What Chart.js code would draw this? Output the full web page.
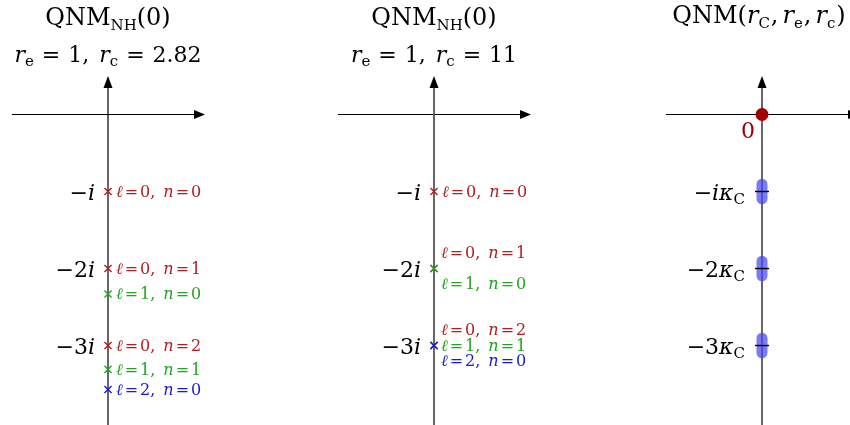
<!DOCTYPE html>
<html>
<head>
<meta charset="utf-8">
<script src="https://cdn.jsdelivr.net/npm/chart.js@4/dist/chart.umd.min.js"></script>
<style>
  body { margin: 0; background: #fff; }
  #wrap { position: relative; width: 850px; height: 425px; }
  #wrap canvas { position: absolute; left: 0; top: 0; }
</style>
</head>
<body>
<div id="wrap">
  <canvas id="qnm1" width="850" height="425"></canvas>
  <canvas id="qnm2" width="850" height="425"></canvas>
  <canvas id="qnm3" width="850" height="425"></canvas>
</div>
<script>
// data: imaginary parts of the modes (units of i)
var modeEll = [0, 0, 1, 0, 1, 2];
var modeN = [0, 1, 0, 2, 1, 0];
var imPanel1 = [-1, -2, -2.33, -3, -3.31, -3.57];   // r_c = 2.82
var imPanel2 = [-1, -2, -2, -3, -3, -3];             // r_c = 11
var imagTicks = [-1, -2, -3];
var imagTickLabels = ['\u2212', '\u22122', '\u22123']; // followed by italic i
var kappaModes = [-1, -2, -3];
var kappaLabels = ['\u2212i', '\u22122', '\u22123'];
var originModes = [0];
var rcValues = ['2.82', '11'];

var ellColors = ['#b01e1e', '#1fa51f', '#1a1ad2'];
var SERIF = '"DejaVu Serif", "Liberation Serif", serif';

function fnt(p) {
  return (p.it ? 'italic ' : '') + p.s + 'px ' + SERIF;
}
// draws a run of text pieces (for subscripts / italics)
function rich(ctx, parts, x, y, align, color) {
  ctx.save();
  ctx.fillStyle = color;
  ctx.textBaseline = 'alphabetic';
  ctx.textAlign = 'left';
  var w = 0;
  parts.forEach(function(p) {
    ctx.font = fnt(p);
    p.w = ctx.measureText(p.t).width + (p.sp || 0);
    w += p.w;
  });
  var cx = align === 'center' ? x - w / 2 : (align === 'right' ? x - w : x);
  parts.forEach(function(p) {
    ctx.font = fnt(p);
    ctx.fillText(p.t, cx, y + (p.dy || 0));
    cx += p.w;
  });
  ctx.restore();
}

function modeLabel(l, n) {
  return [
    {t: '\u2113', it: true, s: 16, sp: 2},
    {t: '=', s: 16, sp: 2},
    {t: l + ',', s: 16, sp: 8},
    {t: 'n', it: true, s: 16, sp: 2},
    {t: '=', s: 16, sp: 2},
    {t: String(n), s: 16}
  ];
}

var axesPlugin = {
  id: 'axes',
  beforeDatasetsDraw: function(chart, args, opts) {
    var ctx = chart.ctx, xs = chart.scales.x, ys = chart.scales.y;
    var x0 = xs.getPixelForValue(0), y0 = ys.getPixelForValue(0);
    var xl = xs.getPixelForValue(-0.96), xr = xs.getPixelForValue(0.97);
    var yt = ys.getPixelForValue(0.5);
    ctx.save();
    ctx.strokeStyle = '#000';
    ctx.fillStyle = '#000';
    ctx.lineWidth = 1.2;
    ctx.beginPath();
    ctx.moveTo(xl, y0); ctx.lineTo(xr - 8, y0);
    ctx.stroke();
    ctx.strokeStyle = opts.vColor || '#000';
    ctx.lineWidth = opts.vWidth || 1.2;
    ctx.beginPath();
    ctx.moveTo(x0, chart.height); ctx.lineTo(x0, yt + 8);
    ctx.stroke();
    ctx.fillStyle = '#000';
    ctx.beginPath();
    ctx.moveTo(xr, y0); ctx.lineTo(xr - 11, y0 - 4.5); ctx.lineTo(xr - 11, y0 + 4.5);
    ctx.closePath(); ctx.fill();
    ctx.beginPath();
    ctx.moveTo(x0, yt); ctx.lineTo(x0 - 4.5, yt + 12); ctx.lineTo(x0 + 4.5, yt + 12);
    ctx.closePath(); ctx.fill();
    ctx.restore();
  }
};

var textPlugin = {
  id: 'texts',
  afterDatasetsDraw: function(chart, args, opts) {
    var ctx = chart.ctx, xs = chart.scales.x, ys = chart.scales.y;
    var x0 = xs.getPixelForValue(0);
    opts.titles.forEach(function(tl) {
      rich(ctx, tl.parts, x0 + (tl.dx || 0), tl.y, 'center', '#000');
    });
    if (opts.ticks) {
      opts.ticks.forEach(function(tk) {
        rich(ctx, tk.parts, x0 - tk.gap, ys.getPixelForValue(tk.v) + 8, 'right', '#000');
      });
    }
    if (opts.modes) {
      var im = opts.modes.im;
      // spread labels of coinciding modes
      var groups = {};
      im.forEach(function(v, i) { (groups[v] = groups[v] || []).push(i); });
      Object.keys(groups).forEach(function(k) {
        var idx = groups[k];
        var offs = idx.length === 1 ? [0] : (idx.length === 2 ? [-16, 15] : [-16, 0, 15]);
        var dx = idx.length === 1 ? 8 : 7;
        idx.forEach(function(i, j) {
          var y = ys.getPixelForValue(im[i]) + offs[j] + 5.5;
          rich(ctx, modeLabel(modeEll[i], modeN[i]), x0 + dx, y, 'left', ellColors[modeEll[i]]);
        });
      });
    }
    if (opts.zero) {
      rich(ctx, [{t: '0', s: 22}], x0 - 14, ys.getPixelForValue(0) + 23, 'center', '#a00000');
    }
  }
};

function baseOptions(xmin, xmax, pluginOpts, axOpts) {
  return {
    responsive: false,
    animation: false,
    events: [],
    layout: {padding: 0, autoPadding: false},
    scales: {
      x: {type: 'linear', min: xmin, max: xmax, display: false},
      y: {type: 'linear', min: -4.032, max: 1.487, display: false}
    },
    plugins: {
      legend: {display: false},
      tooltip: {enabled: false},
      axes: axOpts || {},
      texts: pluginOpts
    }
  };
}

function modeDatasets(im) {
  return im.map(function(v, i) {
    return {
      data: [{x: 0, y: v}],
      pointStyle: 'crossRot',
      pointRadius: 5,
      borderWidth: 1.4,
      borderColor: ellColors[modeEll[i]],
      backgroundColor: ellColors[modeEll[i]],
      order: -i
    };
  });
}

function tickParts(lbl) {
  return [{t: lbl, s: 22}, {t: 'i', it: true, s: 22}];
}

function nhTitles(rc) {
  return [
    {y: 25, parts: [{t: 'QNM', s: 24}, {t: 'NH', s: 15, dy: 5}, {t: '(0)', s: 24}]},
    {y: 62, parts: [{t: 'r', it: true, s: 22}, {t: 'e', s: 15, dy: 4, sp: 8}, {t: '=', s: 22, sp: 8},
                    {t: '1,', s: 22, sp: 10},
                    {t: 'r', it: true, s: 22}, {t: 'c', s: 15, dy: 4, sp: 8}, {t: '=', s: 22, sp: 8},
                    {t: rc, s: 22}]}
  ];
}

new Chart(document.getElementById('qnm1'), {
  type: 'scatter',
  data: {datasets: modeDatasets(imPanel1)},
  options: baseOptions(-1.08, 7.42, {
    titles: nhTitles(rcValues[0]),
    ticks: imagTicks.map(function(v, i) { return {v: v, gap: 13, parts: tickParts(imagTickLabels[i])}; }),
    modes: {im: imPanel1}
  }),
  plugins: [axesPlugin, textPlugin]
});

new Chart(document.getElementById('qnm2'), {
  type: 'scatter',
  data: {datasets: modeDatasets(imPanel2)},
  options: baseOptions(-4.34, 4.16, {
    titles: nhTitles(rcValues[1]),
    ticks: imagTicks.map(function(v, i) { return {v: v, gap: 13, parts: tickParts(imagTickLabels[i])}; }),
    modes: {im: imPanel2}
  }, {vColor: '#555', vWidth: 1.8}),
  plugins: [axesPlugin, textPlugin]
});

var capsuleData = [];
kappaModes.forEach(function(k) {
  capsuleData.push({x: 0, y: k + 0.095}, {x: 0, y: k - 0.095}, {x: 0, y: null});
});

new Chart(document.getElementById('qnm3'), {
  type: 'scatter',
  data: {
    datasets: [
      {
        type: 'line',
        data: capsuleData,
        borderColor: 'rgba(70,70,238,0.72)',
        borderWidth: 11,
        borderCapStyle: 'round',
        pointRadius: 0,
        spanGaps: false,
        order: 3
      },
      {
        data: kappaModes.map(function(k) { return {x: 0, y: k}; }),
        pointStyle: 'line',
        pointRadius: 7,
        borderWidth: 1.4,
        borderColor: '#000',
        order: 2
      },
      {
        data: originModes.map(function(v) { return {x: 0, y: v}; }),
        pointStyle: 'circle',
        pointRadius: 6.5,
        borderWidth: 0,
        backgroundColor: '#a00000',
        order: 1
      }
    ]
  },
  options: baseOptions(-7.62, 0.88, {
    titles: [{y: 23, dx: -3, parts: [{t: 'QNM(', s: 24}, {t: 'r', it: true, s: 24}, {t: 'C', s: 15, dy: 5, sp: 1},
      {t: ',', s: 24, sp: 4}, {t: 'r', it: true, s: 24}, {t: 'e', s: 15, dy: 5, sp: 1},
      {t: ',', s: 24, sp: 4}, {t: 'r', it: true, s: 24}, {t: 'c', s: 15, dy: 5, sp: 1}, {t: ')', s: 24}]}],
    ticks: kappaModes.map(function(v, i) {
      var lbl = kappaLabels[i];
      var parts = lbl === '\u2212i'
        ? [{t: '\u2212', s: 22}, {t: 'i\u03ba', it: true, s: 22}]
        : [{t: lbl, s: 22}, {t: '\u03ba', it: true, s: 22}];
      parts.push({t: 'C', s: 15, dy: 4});
      return {v: v, gap: 17, parts: parts};
    }),
    zero: true
  }),
  plugins: [axesPlugin, textPlugin]
});
</script>
</body>
</html>
